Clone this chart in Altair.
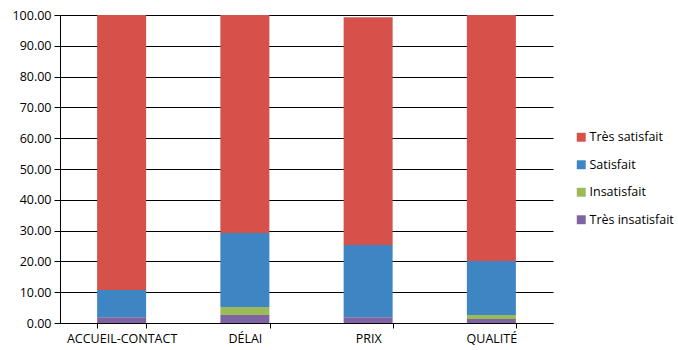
import altair as alt
import pandas as pd

categories = ["ACCUEIL-CONTACT", "DÉLAI", "PRIX", "QUALITÉ"]
series = ["Très insatisfait", "Insatisfait", "Satisfait", "Très satisfait"]
tres_insatisfait = [1.9, 2.6, 1.9, 1.3]
insatisfait = [0.0, 2.6, 0.0, 1.3]
satisfait = [8.8, 24.0, 23.4, 17.5]
tres_satisfait = [89.3, 70.8, 74.0, 79.9]
colors = ["#8064A2", "#9BBB59", "#3E85C4", "#D6514A"]
legend_order = ["Très satisfait", "Satisfait", "Insatisfait", "Très insatisfait"]

rows = []
for i, c in enumerate(categories):
    for k, (s, vals) in enumerate(zip(series, [tres_insatisfait, insatisfait, satisfait, tres_satisfait])):
        rows.append({"cat": c, "serie": s, "val": vals[i], "ord": k})
df = pd.DataFrame(rows)

font = "Open Sans"

bars = alt.Chart(df).mark_bar(size=49).encode(
    x=alt.X("cat:N", sort=categories, title=None,
            scale=alt.Scale(paddingInner=0.6, paddingOuter=0.3),
            axis=alt.Axis(labelAngle=0, tickBand="extent", domainColor="#000000",
                          tickColor="#000000", tickSize=5, labelFontSize=12.5,
                          labelColor="#000000", labelFont=font, labelPadding=4)),
    y=alt.Y("val:Q", stack="zero", title=None,
            scale=alt.Scale(domain=[0, 100], nice=False),
            axis=alt.Axis(values=list(range(0, 101, 10)), format=".2f", grid=True,
                          gridColor="#000000", gridWidth=1, domainColor="#000000",
                          tickColor="#000000", tickSize=6, labelFontSize=12.5,
                          labelColor="#000000", labelFont=font, labelPadding=3)),
    color=alt.Color("serie:N", sort=legend_order,
                    scale=alt.Scale(domain=legend_order,
                                    range=[colors[3], colors[2], colors[1], colors[0]]),
                    legend=alt.Legend(title=None, orient="none", legendX=515, legendY=116,
                                      symbolType="square", symbolSize=80, symbolStrokeWidth=0,
                                      labelFontSize=12.5, labelFont=font, labelColor="#000000",
                                      rowPadding=14.5, labelOffset=2)),
    order=alt.Order("ord:Q"),
)

chart = bars.properties(
    width=493, height=308,
    padding={"left": 60, "top": 15, "right": 125, "bottom": 27},
    autosize=alt.AutoSizeParams(type="none"),
    background="#FFFFFF",
).configure_view(stroke=None)

chart.save("out.html", embed_options={"renderer": "svg", "actions": False})
